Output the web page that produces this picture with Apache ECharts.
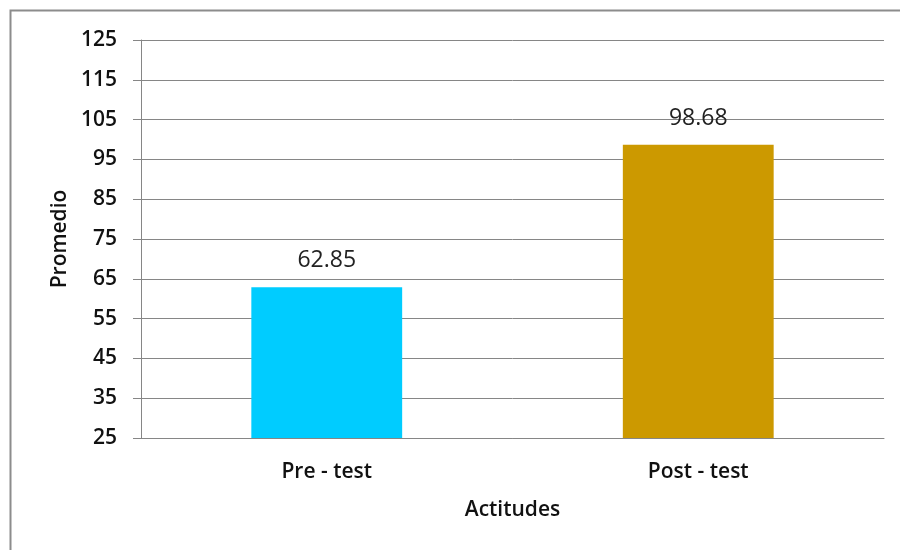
<!DOCTYPE html>
<html>
<head>
<meta charset="utf-8">
<script src="https://cdn.jsdelivr.net/npm/echarts@6/dist/echarts.min.js"></script>
<style>
  html, body { margin: 0; padding: 0; background: #fff; }
  #chart { width: 900px; height: 550px; }
</style>
</head>
<body>
<div id="chart"></div>
<script>
// Average attitude scores before and after the intervention
const categories = ['Pre - test', 'Post - test'];
const values = [62.85, 98.68];
const barColors = ['#00CCFF', '#CC9900'];
const yMin = 25;
const yMax = 125;
const yStep = 10;

const chart = echarts.init(document.getElementById('chart'));

const axisFont = { fontFamily: 'Open Sans', fontWeight: 600, color: '#111' };

chart.setOption({
  animation: false,
  backgroundColor: '#ffffff',
  graphic: [{
    type: 'rect',
    shape: { x: 10.5, y: 10.5, width: 940, height: 600 },
    style: { fill: 'none', stroke: '#8c8c8c', lineWidth: 2 },
    silent: true
  }],
  grid: { left: 141, right: 16, top: 40, bottom: 112 },
  xAxis: {
    type: 'category',
    data: categories,
    name: 'Actitudes',
    nameLocation: 'middle',
    nameGap: 62,
    nameMoveOverlap: false,
    nameTextStyle: Object.assign({ fontSize: 21 }, axisFont),
    axisLine: { lineStyle: { color: '#868686', width: 1 } },
    axisTick: { show: false },
    axisLabel: Object.assign({ margin: 24, fontSize: 21 }, axisFont)
  },
  yAxis: {
    type: 'value',
    min: yMin,
    max: yMax,
    interval: yStep,
    name: 'Promedio',
    nameLocation: 'middle',
    nameGap: 70,
    nameRotate: 90,
    nameMoveOverlap: false,
    nameTextStyle: Object.assign({ fontSize: 21 }, axisFont),
    axisLine: { show: true, lineStyle: { color: '#868686', width: 1 } },
    axisTick: { show: true, length: 8, lineStyle: { color: '#868686', width: 1 } },
    axisLabel: Object.assign({ margin: 24, fontSize: 21 }, axisFont),
    splitLine: { show: true, lineStyle: { color: '#868686', width: 1 } }
  },
  series: [{
    type: 'bar',
    barWidth: '40.6%',
    data: values.map((v, i) => ({ value: v, itemStyle: { color: barColors[i] } })),
    label: {
      show: true,
      position: 'top',
      distance: 15,
      fontFamily: 'Open Sans',
      fontSize: 23,
      color: '#222',
      formatter: p => p.value.toFixed(2)
    }
  }]
});
</script>
</body>
</html>
